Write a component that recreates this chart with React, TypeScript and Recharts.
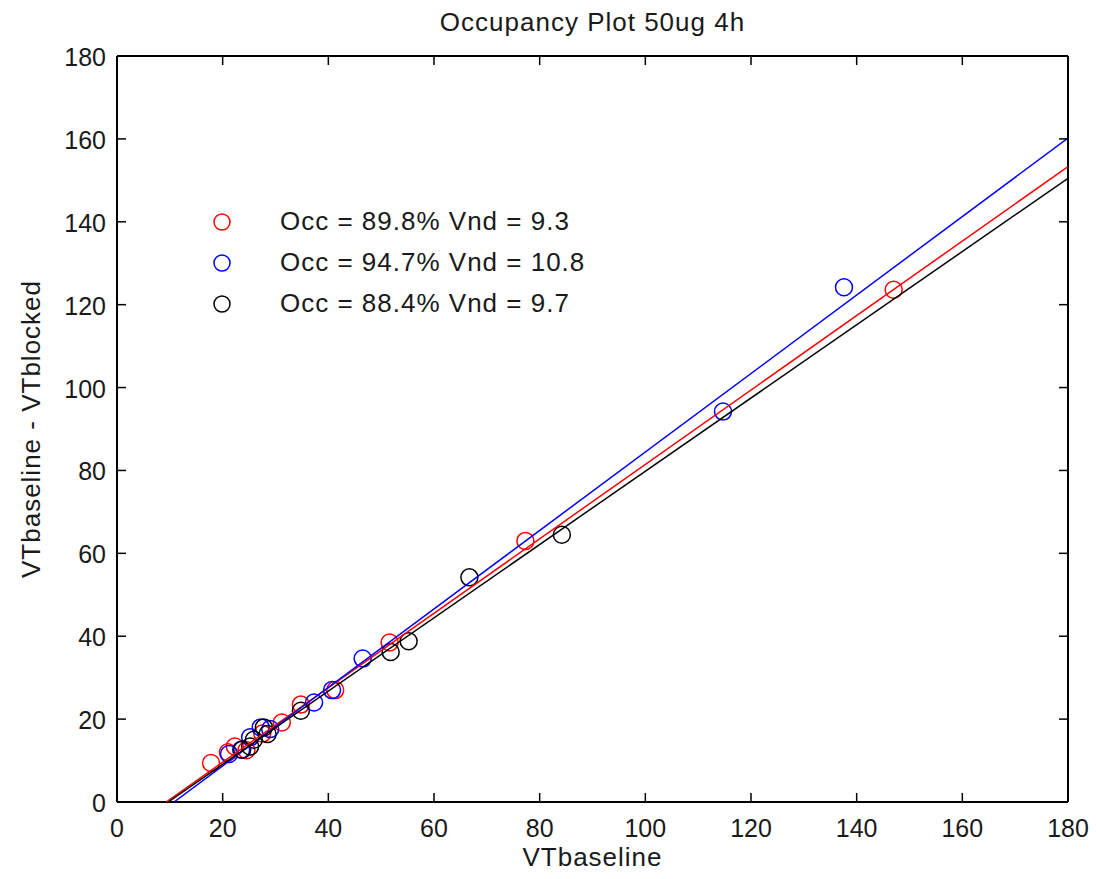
import { Label, Scatter, ScatterChart, XAxis, YAxis } from "recharts";

const xTicks = [0, 20, 40, 60, 80, 100, 120, 140, 160, 180];
const yTicks = [0, 20, 40, 60, 80, 100, 120, 140, 160, 180];

// VTbaseline vs VTbaseline - VTblocked, one list per subject
const redPoints = [
  { x: 17.8, y: 9.4 },
  { x: 21.0, y: 12.0 },
  { x: 22.3, y: 13.4 },
  { x: 24.5, y: 12.5 },
  { x: 27.5, y: 16.5 },
  { x: 31.2, y: 19.2 },
  { x: 34.8, y: 23.5 },
  { x: 41.3, y: 27.0 },
  { x: 51.6, y: 38.5 },
  { x: 77.3, y: 63.0 },
  { x: 147.0, y: 123.6 },
];
const bluePoints = [
  { x: 21.2, y: 11.6 },
  { x: 23.5, y: 12.6 },
  { x: 25.2, y: 15.6 },
  { x: 27.2, y: 18.0 },
  { x: 29.0, y: 17.6 },
  { x: 37.3, y: 24.0 },
  { x: 40.7, y: 27.0 },
  { x: 46.5, y: 34.6 },
  { x: 114.7, y: 94.2 },
  { x: 137.6, y: 124.2 },
];
const blackPoints = [
  { x: 23.7, y: 12.6 },
  { x: 25.2, y: 13.4 },
  { x: 25.9, y: 15.0 },
  { x: 27.8, y: 18.0 },
  { x: 28.5, y: 16.4 },
  { x: 34.8, y: 22.0 },
  { x: 51.8, y: 36.2 },
  { x: 55.2, y: 38.8 },
  { x: 66.7, y: 54.2 },
  { x: 84.2, y: 64.5 },
];

// fitted lines, read at y = 0 and at the right edge
const redFit = [
  { x: 9.3, y: 0 },
  { x: 180, y: 153.3 },
];
const blueFit = [
  { x: 10.8, y: 0 },
  { x: 180, y: 160.2 },
];
const blackFit = [
  { x: 9.7, y: 0 },
  { x: 180, y: 150.5 },
];

const legendLabels = [
  "Occ = 89.8% Vnd = 9.3",
  "Occ = 94.7% Vnd = 10.8",
  "Occ = 88.4% Vnd = 9.7",
];

const RED = "#ff0000";
const BLUE = "#0000ff";
const BLACK = "#000000";
const TEXT = "#1a1a1a";
const FONT = '"Liberation Sans", Arial, Helvetica, sans-serif';

const series = [
  { name: "red", color: RED, points: redPoints, fit: redFit, label: legendLabels[0] },
  { name: "blue", color: BLUE, points: bluePoints, fit: blueFit, label: legendLabels[1] },
  { name: "black", color: BLACK, points: blackPoints, fit: blackFit, label: legendLabels[2] },
];

const TICK = 9;

function ring(color: string) {
  return (p: any) => (
    <circle cx={p.cx} cy={p.cy} r={8.5} fill="none" stroke={color} strokeWidth={1.5} />
  );
}

const noShape = () => <g />;

function BottomTick(p: any) {
  return (
    <g>
      <line x1={p.x} y1={p.y} x2={p.x} y2={p.y - TICK} stroke={BLACK} strokeWidth={1.5} />
      <text x={p.x} y={p.y + 26} textAnchor="middle" dominantBaseline="central" fontSize={25} fill={TEXT} fontFamily={FONT}>
        {p.payload.value}
      </text>
    </g>
  );
}

function LeftTick(p: any) {
  return (
    <g>
      <line x1={p.x} y1={p.y} x2={p.x + TICK} y2={p.y} stroke={BLACK} strokeWidth={1.5} />
      <text x={p.x - 11} y={p.y + 1} textAnchor="end" dominantBaseline="central" fontSize={25} fill={TEXT} fontFamily={FONT}>
        {p.payload.value}
      </text>
    </g>
  );
}

function TopTick(p: any) {
  return <line x1={p.x} y1={p.y} x2={p.x} y2={p.y + TICK} stroke={BLACK} strokeWidth={1.5} />;
}

function RightTick(p: any) {
  return <line x1={p.x} y1={p.y} x2={p.x - TICK} y2={p.y} stroke={BLACK} strokeWidth={1.5} />;
}

export default function App() {
  return (
    <div style={{ position: "absolute", left: 0, top: 0, width: 1096, height: 879, background: "#fff" }}>
      <ScatterChart width={1096} height={879} margin={{ top: 55, right: 27, bottom: 0, left: 0 }}>
        <XAxis
          type="number"
          dataKey="x"
          domain={[0, 180]}
          ticks={xTicks}
          interval={0}
          height={77}
          tickSize={0}
          tickMargin={0}
          tickLine={false}
          tick={BottomTick}
          axisLine={{ stroke: BLACK, strokeWidth: 2 }}
          allowDataOverflow
        >
          <Label
            content={(p: any) => (
              <text
                x={p.viewBox.x + p.viewBox.width / 2}
                y={857}
                textAnchor="middle"
                dominantBaseline="central"
                fontSize={26}
                letterSpacing={1}
                fill={TEXT}
                fontFamily={FONT}
              >
                VTbaseline
              </text>
            )}
          />
        </XAxis>
        <XAxis
          xAxisId="top"
          orientation="top"
          type="number"
          dataKey="x"
          domain={[0, 180]}
          ticks={xTicks}
          interval={0}
          height={1}
          tickSize={0}
          tickMargin={0}
          tickLine={false}
          tick={TopTick}
          axisLine={{ stroke: BLACK, strokeWidth: 2 }}
          allowDataOverflow
        >
          <Label
            content={(p: any) => (
              <text
                x={p.viewBox.x + p.viewBox.width / 2}
                y={22}
                textAnchor="middle"
                dominantBaseline="central"
                fontSize={26}
                letterSpacing={1}
                fill={TEXT}
                fontFamily={FONT}
              >
                Occupancy Plot 50ug 4h
              </text>
            )}
          />
        </XAxis>
        <YAxis
          type="number"
          dataKey="y"
          domain={[0, 180]}
          ticks={yTicks}
          interval={0}
          width={117}
          tickSize={0}
          tickMargin={0}
          tickLine={false}
          tick={LeftTick}
          axisLine={{ stroke: BLACK, strokeWidth: 2 }}
          allowDataOverflow
        >
          <Label
            content={(p: any) => {
              const cy = p.viewBox.y + p.viewBox.height / 2;
              return (
                <text
                  x={31}
                  y={cy}
                  transform={`rotate(-90 31 ${cy})`}
                  textAnchor="middle"
                  dominantBaseline="central"
                  fontSize={26}
                  letterSpacing={1}
                  fill={TEXT}
                  fontFamily={FONT}
                >
                  VTbaseline - VTblocked
                </text>
              );
            }}
          />
        </YAxis>
        <YAxis
          yAxisId="right"
          orientation="right"
          type="number"
          dataKey="y"
          domain={[0, 180]}
          ticks={yTicks}
          interval={0}
          width={1}
          tickSize={0}
          tickMargin={0}
          tickLine={false}
          tick={RightTick}
          axisLine={{ stroke: BLACK, strokeWidth: 2 }}
          allowDataOverflow
        />
        {series.map((s) => (
          <Scatter
            key={s.name}
            name={s.name}
            data={s.points}
            shape={ring(s.color)}
            isAnimationActive={false}
          />
        ))}
        {series.map((s) => (
          <Scatter
            key={s.name + "-fit"}
            name={s.name + " fit"}
            data={s.fit}
            xAxisId="top"
            yAxisId="right"
            line={{ stroke: s.color, strokeWidth: 1.5 }}
            shape={noShape}
            isAnimationActive={false}
          />
        ))}
      </ScatterChart>
      <div style={{ position: "absolute", left: 210, top: 201, fontFamily: FONT, color: TEXT }}>
        {series.map((s) => (
          <div key={s.name} style={{ display: "flex", alignItems: "center", height: 41 }}>
            <svg width={24} height={24}>
              <circle cx={12} cy={12} r={8} fill="none" stroke={s.color} strokeWidth={1.5} />
            </svg>
            <span style={{ marginLeft: 46, fontSize: 26, letterSpacing: 1, lineHeight: "41px" }}>{s.label}</span>
          </div>
        ))}
      </div>
    </div>
  );
}
